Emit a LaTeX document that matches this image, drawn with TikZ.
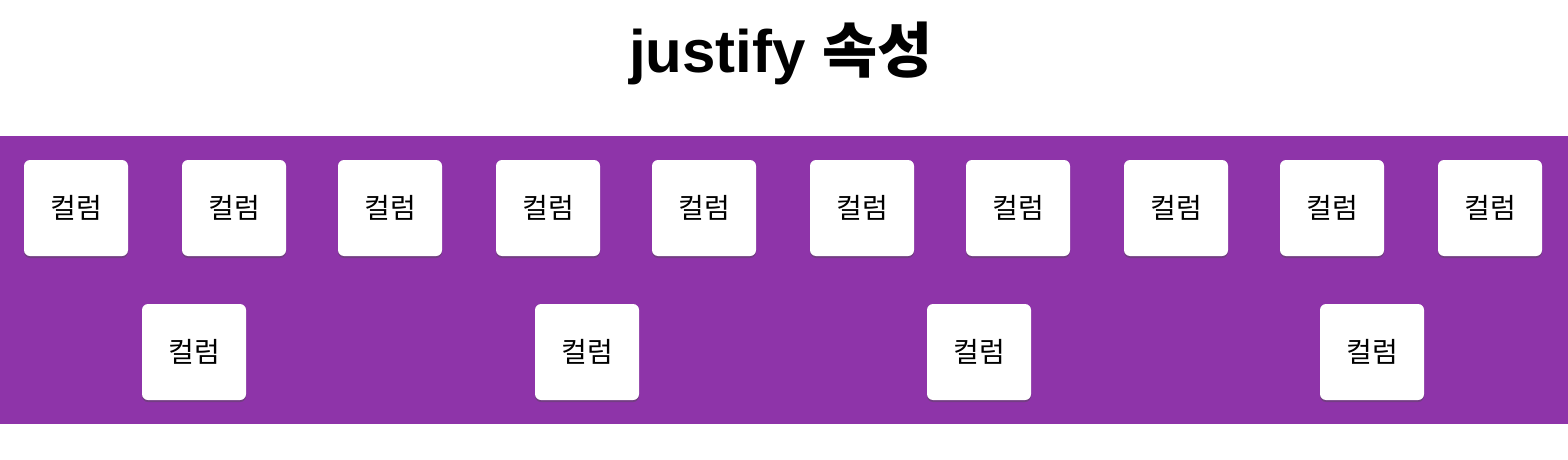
\documentclass[tikz,border=0pt]{standalone}
\usepackage{fontspec}
\setmainfont{Liberation Sans}
\newfontfamily\kor{Noto Sans CJK KR}
\usetikzlibrary{shadows}
\definecolor{band}{HTML}{8E34A9}
\begin{document}
\begin{tikzpicture}[x=1pt,y=-1pt,
  col/.style={fill=white, rounded corners=6pt, minimum width=104pt, minimum height=96pt, inner sep=0pt,
    font=\kor\fontsize{28}{30}\selectfont,
    drop shadow={shadow xshift=0pt, shadow yshift=-2pt, opacity=0.4, fill=black!70}}]
\useasboundingbox (0,0) rectangle (1568,460);
\fill[white] (0,0) rectangle (1568,460);
\fill[band] (0,136) rectangle (1568,424);
\node[font=\bfseries\fontsize{60}{70}\selectfont, anchor=base] (title) at (781,72) {justify {\kor\bfseries 속성}};
\foreach \x [count=\i] in {76,234,390,548,704,862,1018,1176,1332,1490}
  \node[col] (a\i) at (\x,208) {컬럼};
\foreach \x [count=\i] in {194,587,979,1372}
  \node[col] (b\i) at (\x,352) {컬럼};
\end{tikzpicture}
\end{document}
